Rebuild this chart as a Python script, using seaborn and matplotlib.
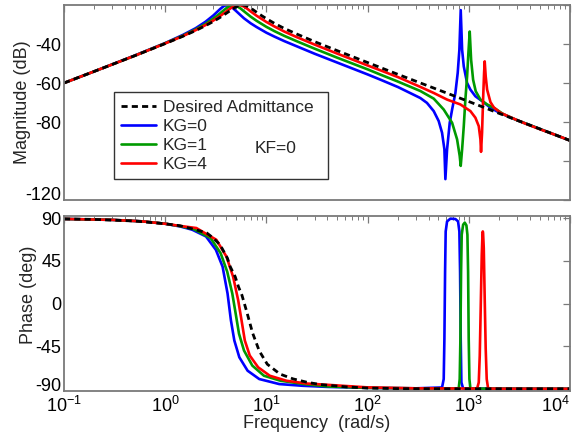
import matplotlib

matplotlib.use("Agg")
import matplotlib.pyplot as plt
import matplotlib.ticker as mticker
import matplotlib.transforms as mtransforms
import seaborn as sns

# values (frequency in rad/s, magnitude in dB, phase in deg)
des_mag_w = [0.1, 0.2, 0.5, 1, 1.5, 2, 2.5, 3, 3.5, 4, 4.5, 5, 5.5, 5.8, 6.2, 6.5, 7, 8, 9, 10,
             12, 15, 20, 30, 50, 100, 200, 500, 1000, 2000, 5000, 10000]
des_mag_db = [-60.0, -54.0, -46.0, -39.8, -36.0, -33.1, -30.6, -28.4, -26.3, -24.3, -22.5, -21.0,
              -20.1, -20.0, -20.2, -20.7, -21.6, -23.7, -25.5, -27.0, -29.4, -32.0, -34.9, -38.8,
              -43.4, -49.5, -55.6, -63.5, -69.5, -75.6, -83.5, -89.5]

kg0_mag_w = [0.1, 0.2, 0.5, 1, 1.5, 2, 2.5, 3, 3.5, 3.8, 4.08, 4.3, 4.5, 5, 5.5, 6, 7, 8, 10, 12,
             15, 20, 30, 50, 100, 134, 200, 332, 386, 450, 504, 544, 574, 587, 610, 648, 684, 737,
             777, 807, 832, 859, 892, 962, 1037, 1162, 1355, 1637, 2000, 3000, 5000, 10000]
kg0_mag_db = [-60.0, -54.0, -45.9, -39.5, -35.3, -31.9, -28.6, -25.3, -22.0, -20.5, -20.0, -20.3,
              -20.9, -23.0, -25.0, -26.8, -29.4, -31.3, -34.2, -36.2, -38.5, -41.2, -45.0, -49.5,
              -55.6, -58.3, -62.1, -67.7, -70.2, -74.4, -79.5, -85.5, -94.0, -109.3, -94.0, -80.4,
              -73.6, -65.1, -54.8, -43.0, -22.6, -43.0, -51.5, -60.0, -63.4, -66.8, -69.3, -72.7,
              -75.2, -79.1, -83.5, -89.5]

kg1_mag_w = [0.1, 0.2, 0.5, 1, 1.5, 2, 2.5, 3, 3.5, 4, 4.4, 4.7, 5, 5.5, 6, 7, 8, 10, 12, 15, 20,
             30, 50, 100, 134, 200, 332, 450, 565, 684, 766, 813, 832, 859, 892, 925, 962, 991,
             1021, 1054, 1103, 1170, 1303, 1517, 1766, 2200, 3000, 5000, 10000]
kg1_mag_db = [-60.0, -54.0, -46.0, -39.6, -35.7, -32.5, -29.7, -26.9, -24.2, -21.7, -20.4, -20.0,
              -20.3, -21.6, -23.2, -26.0, -28.1, -31.2, -33.4, -35.8, -38.6, -42.4, -47.0, -53.0,
              -55.7, -59.3, -64.1, -68.0, -73.6, -80.4, -88.9, -97.4, -102.5, -94.0, -82.1, -68.5,
              -56.6, -44.6, -33.6, -48.1, -58.3, -64.2, -68.5, -71.0, -72.7, -76.0, -79.1, -83.5,
              -89.5]

kg4_mag_w = [0.1, 0.2, 0.5, 1, 1.5, 2, 2.5, 3, 3.5, 4, 4.5, 5, 5.3, 5.6, 6, 6.5, 7, 8, 10, 12, 15,
             20, 30, 50, 100, 134, 200, 332, 450, 610, 826, 1037, 1162, 1254, 1303, 1321, 1352,
             1384, 1416, 1436, 1469, 1517, 1637, 1766, 2055, 2782, 3773, 5108, 6918, 10000]
kg4_mag_db = [-60.0, -54.0, -46.0, -39.7, -35.9, -32.9, -30.3, -27.9, -25.6, -23.4, -21.4, -20.2,
              -20.0, -20.2, -20.8, -22.0, -23.3, -25.5, -28.7, -31.0, -33.6, -36.5, -40.3, -44.9,
              -51.0, -53.5, -57.0, -62.0, -65.1, -68.5, -71.0, -74.4, -77.8, -82.1, -88.9, -95.3,
              -85.5, -68.5, -54.8, -48.9, -56.6, -63.4, -69.8, -72.5, -75.3, -78.3, -81.2, -83.8,
              -86.3, -89.5]

des_ph_w = [0.1, 0.2, 0.5, 1, 1.4, 2, 2.58, 3, 3.49, 4.12, 4.39, 4.92, 5.3, 5.73, 6.41, 7.3, 8.5,
            10.2, 13.6, 18.3, 25, 34, 62, 100, 200, 1000, 10000]
des_ph_deg = [89.4, 88.9, 87.2, 84.3, 82.2, 78.0, 74.5, 69.0, 62.0, 47.9, 39.0, 28.3, 17.7, 8.9,
              -9.0, -31.0, -50.0, -64.0, -74.4, -79.5, -83.0, -85.5, -88.0, -89.2, -89.8, -90.0,
              -90.0]

kg0_ph_w = [0.1, 0.3, 0.6, 1, 1.4, 1.85, 2.53, 3.17, 3.69, 4.13, 4.46, 4.82, 5.40, 6.52, 8.50,
            13.4, 22.8, 40, 100, 300, 544, 565, 574, 583, 591, 610, 658, 737, 783, 807, 820, 832,
            845, 879, 1000, 10000]
kg0_ph_deg = [89.4, 88.4, 86.8, 84.3, 81.5, 78.0, 70.9, 56.7, 39.0, 10.7, -17.7, -39.0, -56.7,
              -70.9, -79.7, -85.0, -86.8, -88.0, -89.0, -89.5, -88.6, -79.7, -37.2, 33.7, 76.2,
              86.8, 89.7, 89.3, 86.8, 76.2, 33.7, -37.2, -83.3, -89.7, -89.8, -90.0]

kg1_ph_w = [0.1, 0.3, 0.6, 1, 1.4, 1.91, 2.81, 3.53, 4.10, 4.60, 4.97, 5.36, 6.01, 7.26, 9.46,
            13.8, 23.5, 40, 100, 300, 795, 813, 826, 839, 851, 879, 912, 947, 969, 984, 998,
            1014, 1037, 2000, 10000]
kg1_ph_deg = [89.4, 88.4, 86.8, 84.3, 81.8, 78.7, 69.2, 53.2, 33.7, 10.7, -10.6, -31.8, -49.6,
              -65.5, -76.2, -81.5, -85.0, -87.5, -89.0, -89.5, -89.7, -79.7, -37.2, 33.7, 72.7,
              83.3, 85.5, 82.6, 72.7, 33.7, -37.2, -79.7, -89.7, -89.9, -90.0]

kg4_ph_w = [0.1, 0.3, 0.6, 1, 1.4, 2.03, 3.20, 4.03, 4.69, 5.26, 5.68, 6.12, 6.85, 8.29, 10.8,
            15.8, 24.9, 39, 100, 300, 1000, 1208, 1254, 1283, 1313, 1343, 1365, 1375, 1384, 1406,
            1436, 1469, 1503, 1552, 2000, 10000]
kg4_ph_deg = [89.4, 88.4, 86.8, 84.3, 82.0, 79.8, 67.4, 49.6, 28.3, 3.6, -17.7, -39.0, -54.9,
              -67.3, -76.2, -81.5, -84.4, -85.7, -88.5, -89.5, -89.7, -89.7, -83.3, -54.9, -1.8,
              51.4, 72.7, 76.2, 74.5, 58.5, 5.4, -47.8, -79.7, -89.7, -89.9, -90.0]

legend_labels = ["Desired Admittance", "KG=0", "KG=1", "KG=4"]
freq_ticks = [0.1, 1, 10, 100, 1000, 10000]
freq_tick_labels = [r"$\mathdefault{10^{-1}}$", r"$\mathdefault{10^{0}}$", r"$\mathdefault{10^{1}}$",
                    r"$\mathdefault{10^{2}}$", r"$\mathdefault{10^{3}}$", r"$\mathdefault{10^{4}}$"]

BLUE = "#0000ff"
GREEN = "#009a00"
RED = "#ff0000"
AXIS_GRAY = "#7a7a7a"

sns.set_theme(style="white")
plt.rcParams["font.family"] = ["Liberation Sans", "DejaVu Sans"]
plt.rcParams["axes.unicode_minus"] = False
plt.rcParams["mathtext.fontset"] = "custom"
plt.rcParams["mathtext.rm"] = "Liberation Sans"


def add_curve(ax, w, vals, color, lw=1.9, dashed=False):
    sns.lineplot(x=w, y=vals, ax=ax, color=color, linewidth=lw,
                 estimator=None, sort=False, legend=False)
    line = ax.lines[-1]
    if dashed:
        line.set_dashes([2.2, 1.5])
    return line


def style_axes(ax):
    ax.set_xscale("log")
    ax.set_xlim(0.1, 1e4)
    ax.set_xticks(freq_ticks, freq_tick_labels)
    ax.xaxis.set_minor_locator(mticker.LogLocator(base=10, subs=range(2, 10), numticks=20))
    ax.tick_params(which="both", direction="in", top=True, right=True, color=AXIS_GRAY,
                   labelsize=13, labelcolor="black")
    ax.tick_params(which="major", length=5, width=0.9)
    ax.tick_params(which="minor", length=3, width=0.7)
    ax.tick_params(axis="x", pad=4)
    ax.tick_params(axis="y", pad=2)
    for sp in ax.spines.values():
        sp.set_color(AXIS_GRAY)
        sp.set_linewidth(1.3)
    ax.set_xlabel("")
    ax.set_ylabel("")


fig = plt.figure(figsize=(5.72, 4.36), dpi=100)
ax_mag = fig.add_axes([0.1119, 0.5413, 0.8846, 0.4472])
ax_ph = fig.add_axes([0.1119, 0.1039, 0.8846, 0.4007])

# magnitude
h_kg0 = add_curve(ax_mag, kg0_mag_w, kg0_mag_db, BLUE)
h_kg1 = add_curve(ax_mag, kg1_mag_w, kg1_mag_db, GREEN)
h_kg4 = add_curve(ax_mag, kg4_mag_w, kg4_mag_db, RED)
h_des = add_curve(ax_mag, des_mag_w, des_mag_db, "black", lw=2.0, dashed=True)

# phase
add_curve(ax_ph, kg0_ph_w, kg0_ph_deg, BLUE)
add_curve(ax_ph, kg1_ph_w, kg1_ph_deg, GREEN)
add_curve(ax_ph, kg4_ph_w, kg4_ph_deg, RED)
add_curve(ax_ph, des_ph_w, des_ph_deg, "black", lw=2.0, dashed=True)

style_axes(ax_mag)
style_axes(ax_ph)

ax_mag.set_ylim(-120, -20)
ax_mag.set_yticks([-120, -100, -80, -60, -40, -20])
ax_mag.set_yticklabels(["-120", "", "-80", "-60", "-40", ""])
ax_mag.tick_params(labelbottom=False)
ax_mag.set_ylabel("Magnitude (dB)", fontsize=13)
ax_mag.yaxis.set_label_coords(-0.066, 0.5)

ax_ph.set_ylim(-92, 92.5)
ax_ph.set_yticks([-90, -45, 0, 45, 90])
ax_ph.set_yticklabels(["-90", "-45", "0", "45", "90"])
ax_ph.set_ylabel("Phase (deg)", fontsize=13)
ax_ph.yaxis.set_label_coords(-0.054, 0.55)
ax_ph.set_xlabel("Frequency  (rad/s)", fontsize=13)
ax_ph.xaxis.set_label_coords(0.5, -0.14)

# label tweaks: last decade label kept inside the figure, end labels nudged like the original
ax_ph.get_xticklabels()[-1].set_horizontalalignment("right")
ax_mag.get_yticklabels()[0].set_verticalalignment("baseline")
lab_m90 = ax_ph.get_yticklabels()[0]
lab_m90.set_transform(lab_m90.get_transform()
                      + mtransforms.ScaledTranslation(0, 3 / 72, fig.dpi_scale_trans))

leg = ax_mag.legend([h_des, h_kg0, h_kg1, h_kg4], legend_labels, loc="upper left",
                    bbox_to_anchor=(0.0988, 0.0, 0.423, 0.552), mode="expand",
                    fontsize=12.5, frameon=True, fancybox=False, framealpha=1,
                    edgecolor="#333333", handlelength=2.0, handletextpad=0.4,
                    labelspacing=0.22, borderpad=0.42, borderaxespad=0)
leg.get_frame().set_linewidth(1.0)
ax_mag.text(0.377, 0.264, "KF=0", transform=ax_mag.transAxes, fontsize=12.5,
            ha="left", va="center", zorder=10)

fig.savefig("out.png", dpi=100)
